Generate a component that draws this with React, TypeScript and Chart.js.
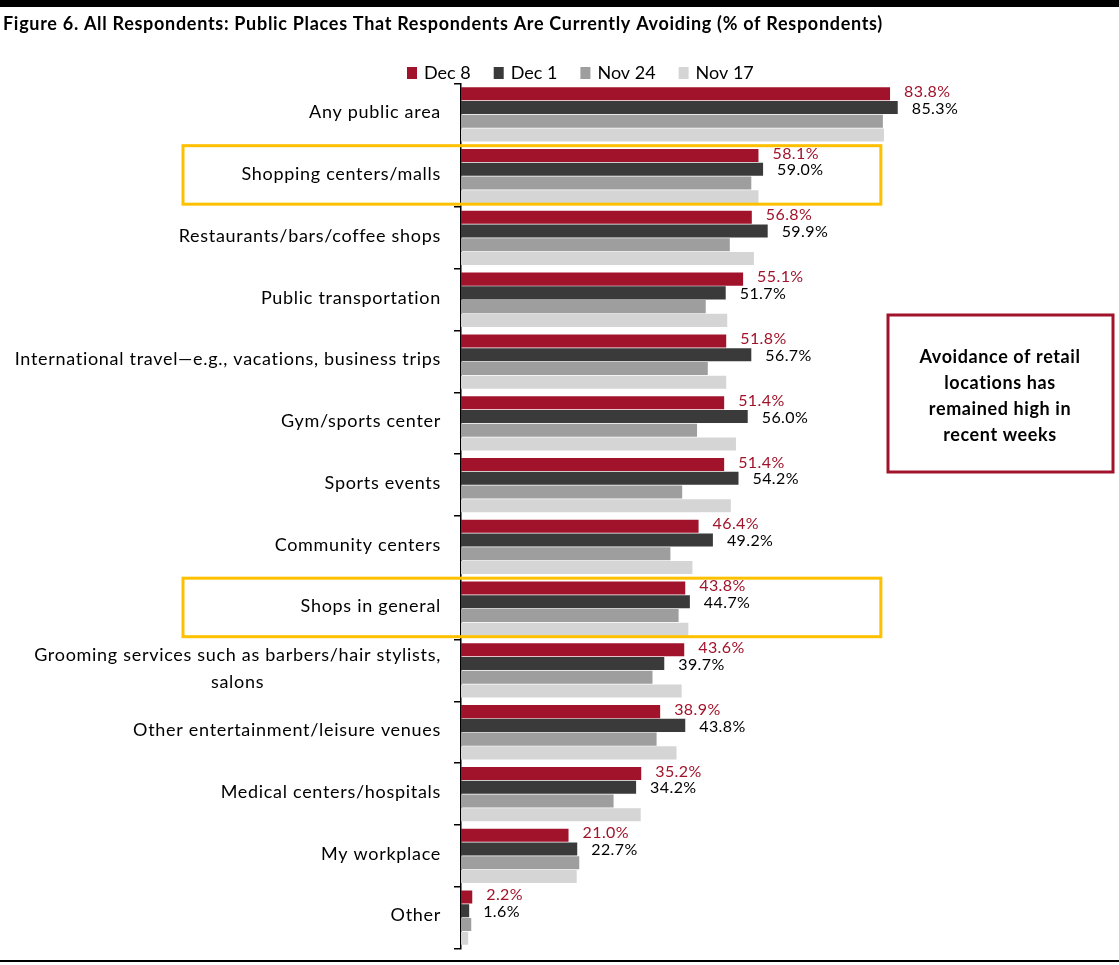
import React, { useEffect, useRef } from "react";
import { Chart, registerables } from "chart.js";

Chart.register(...registerables);

const titleText =
  "Figure 6. All Respondents: Public Places That Respondents Are Currently Avoiding (% of Respondents)";

const categories: (string | string[])[] = [
  "Any public area",
  "Shopping centers/malls",
  "Restaurants/bars/coffee shops",
  "Public transportation",
  "International travel\u2014e.g., vacations, business trips",
  "Gym/sports center",
  "Sports events",
  "Community centers",
  "Shops in general",
  ["Grooming services such as barbers/hair stylists,", "salons"],
  "Other entertainment/leisure venues",
  "Medical centers/hospitals",
  "My workplace",
  "Other",
];

const seriesNames = ["Dec 8", "Dec 1", "Nov 24", "Nov 17"];
const dec8 = [83.8, 58.1, 56.8, 55.1, 51.8, 51.4, 51.4, 46.4, 43.8, 43.6, 38.9, 35.2, 21.0, 2.2];
const dec1 = [85.3, 59.0, 59.9, 51.7, 56.7, 56.0, 54.2, 49.2, 44.7, 39.7, 43.8, 34.2, 22.7, 1.6];
const nov24 = [82.4, 56.7, 52.5, 47.8, 48.2, 46.1, 43.2, 40.9, 42.5, 37.4, 38.2, 29.8, 23.1, 2.0];
const nov17 = [82.6, 58.1, 57.2, 52.0, 51.8, 53.7, 52.7, 45.2, 44.4, 43.1, 42.1, 35.1, 22.6, 1.4];
const seriesValues = [dec8, dec1, nov24, nov17];
const seriesColors = ["#A0132A", "#3A3A3A", "#9E9E9E", "#D5D5D5"];
const labelColors = ["#A0132A", "#000000"];

const highlightedCategories = [1, 8];
const noteLines = ["Avoidance of retail", "locations has", "remained high in", "recent weeks"];

const FONT = "Lato, 'Open Sans', sans-serif";

function setSpacing(ctx: any, px: number) {
  if ("letterSpacing" in ctx) ctx.letterSpacing = px + "px";
}

const decorPlugin = {
  id: "decor",
  afterDraw(chart: any) {
    const ctx = chart.ctx as CanvasRenderingContext2D;
    const yScale = chart.scales.y;
    const xScale = chart.scales.x;
    ctx.save();

    // top and bottom rules
    ctx.fillStyle = "#000";
    ctx.fillRect(0, 0, chart.width, 7);
    ctx.fillRect(0, 960, chart.width, 2);

    // title
    ctx.font = `bold 18px ${FONT}`;
    setSpacing(ctx, 0.7);
    ctx.textAlign = "left";
    ctx.textBaseline = "middle";
    ctx.fillStyle = "#000";
    ctx.fillText(titleText, 3, 24);

    // legend
    ctx.font = `18px ${FONT}`;
    setSpacing(ctx, 0);
    let lx = 407;
    seriesNames.forEach((name, i) => {
      ctx.fillStyle = seriesColors[i];
      ctx.fillRect(lx, 67, 10, 12);
      ctx.fillStyle = "#000";
      ctx.textAlign = "left";
      ctx.fillText(name, lx + 17, 73);
      lx += 17 + ctx.measureText(name).width + 23;
    });

    // category labels
    ctx.font = `18px ${FONT}`;
    setSpacing(ctx, 0.7);
    ctx.fillStyle = "#000";
    const labelRight = 441;
    categories.forEach((cat, i) => {
      const lines = Array.isArray(cat) ? cat : [cat];
      const yc = yScale.getPixelForValue(i) - 2;
      const lh = 27;
      if (lines.length === 1) {
        ctx.textAlign = "right";
        ctx.fillText(lines[0], labelRight, yc);
      } else {
        const w = Math.max(...lines.map((l) => ctx.measureText(l).width));
        const cx = labelRight - w / 2;
        ctx.textAlign = "center";
        lines.forEach((l, k) => {
          ctx.fillText(l, cx, yc - ((lines.length - 1) * lh) / 2 + k * lh);
        });
      }
    });

    // data labels for Dec 8 and Dec 1
    ctx.font = `16px ${FONT}`;
    setSpacing(ctx, 0.4);
    ctx.textAlign = "left";
    [0, 1].forEach((di) => {
      const meta = chart.getDatasetMeta(di);
      ctx.fillStyle = labelColors[di];
      meta.data.forEach((el: any, j: number) => {
        const v = seriesValues[di][j];
        ctx.fillText(v.toFixed(1) + "%", el.x + 14, el.y + (di === 0 ? -2 : 1));
      });
    });

    // highlight boxes
    ctx.strokeStyle = "#FFC000";
    ctx.lineWidth = 3;
    highlightedCategories.forEach((i) => {
      const yc = yScale.getPixelForValue(i);
      const x1 = 183;
      const x2 = xScale.getPixelForValue(82);
      ctx.strokeRect(x1, yc - 30.5, x2 - x1, 58.5);
    });

    // note box
    ctx.strokeStyle = "#A0132A";
    ctx.lineWidth = 3;
    ctx.strokeRect(888, 315, 225, 157);
    ctx.font = `bold 18px ${FONT}`;
    setSpacing(ctx, 0.6);
    ctx.fillStyle = "#000";
    ctx.textAlign = "center";
    noteLines.forEach((l, k) => {
      ctx.fillText(l, 1000, 357 + k * 26);
    });

    ctx.restore();
  },
};

export default function App() {
  const canvasRef = useRef<HTMLCanvasElement | null>(null);

  useEffect(() => {
    if (!canvasRef.current) return;
    const chart = new Chart(canvasRef.current, {
      type: "bar",
      data: {
        labels: categories as any,
        datasets: seriesNames.map((name, i) => ({
          label: name,
          data: seriesValues[i],
          backgroundColor: seriesColors[i],
          borderWidth: 0,
          barPercentage: 0.95,
          categoryPercentage: 0.89,
        })),
      },
      options: {
        indexAxis: "y",
        animation: false,
        responsive: true,
        maintainAspectRatio: false,
        layout: { padding: { left: 0, right: 146, top: 83.5, bottom: 16.5 } },
        plugins: {
          legend: { display: false },
          title: { display: false },
          tooltip: { enabled: false },
        },
        scales: {
          x: { display: false, min: 0, max: 100 },
          y: {
            afterFit(scale: any) {
              scale.width = 461;
            },
            border: { display: true, color: "#000", width: 1.5 },
            grid: {
              display: true,
              drawOnChartArea: false,
              drawTicks: true,
              tickLength: 7,
              color: "#000",
              lineWidth: 1.5,
              offset: true,
            },
            ticks: { color: "rgba(0,0,0,0)", font: { size: 1, family: FONT }, padding: 0 },
          },
        },
      },
      plugins: [decorPlugin],
    });
    return () => chart.destroy();
  }, []);

  return (
    <div style={{ position: "absolute", left: 0, top: 0, width: 1119, height: 965, background: "#fff" }}>
      <canvas ref={canvasRef} />
    </div>
  );
}
